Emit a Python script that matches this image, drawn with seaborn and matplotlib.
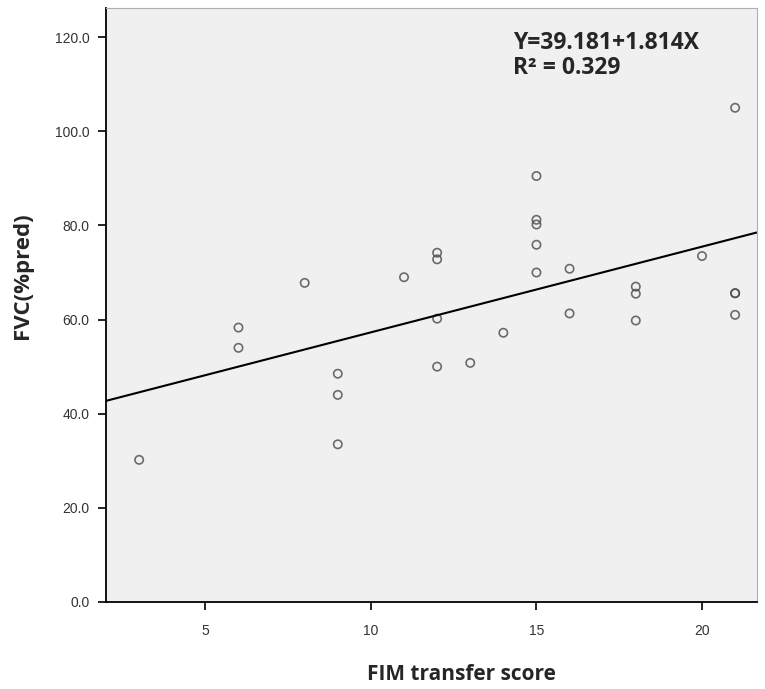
import matplotlib
matplotlib.use("Agg")
import matplotlib.pyplot as plt
import seaborn as sns
import pandas as pd

# FIM transfer score and FVC (%pred)
fim_score = [3, 6, 6, 8, 9, 9, 9, 11, 12, 12, 12, 12, 13, 14,
             15, 15, 15, 15, 15, 16, 16, 18, 18, 18, 20, 21, 21, 21, 21]
fvc_pred = [30.2, 58.3, 54.0, 67.8, 48.5, 44.0, 33.5, 69.0, 74.2, 72.8, 60.2, 50.0, 50.8, 57.2,
            90.5, 81.2, 80.2, 75.9, 70.0, 70.8, 61.3, 67.0, 65.5, 59.8, 73.5, 105.0, 65.6, 65.6, 61.0]

x_ticks = [5, 10, 15, 20]
y_ticks = [0, 20, 40, 60, 80, 100, 120]
equation_text = "Y=39.181+1.814X\nR² = 0.329"

df = pd.DataFrame({"FIM transfer score": fim_score, "FVC(%pred)": fvc_pred})

sns.set_style("ticks")
plt.rcParams['font.family'] = ['Liberation Sans', 'DejaVu Sans']

fig = plt.figure(figsize=(7.65, 6.89), dpi=100)
ax = fig.add_axes([0.1386, 0.1263, 0.8509, 0.8621])
ax.set_facecolor("#f0f0f0")
ax.set_xlim(2.0, 21.66)
ax.set_ylim(0, 126.2)

sns.regplot(data=df, x="FIM transfer score", y="FVC(%pred)", ax=ax, ci=None, truncate=False,
            scatter_kws=dict(s=36, facecolors="none", edgecolors="#4a4a4a", linewidths=1.2),
            line_kws=dict(color="black", linewidth=1.5))

ax.set_xlim(2.0, 21.66)
ax.set_ylim(0, 126.2)
ax.set_xticks(x_ticks)
ax.set_xticklabels([str(t) for t in x_ticks])
ax.set_yticks(y_ticks)
ax.set_yticklabels([f"{t:.1f}" for t in y_ticks])
ax.tick_params(axis="both", direction="out", length=6, width=1.2, colors="black",
               labelsize=10, labelcolor="#333333", pad=6)
ax.tick_params(axis="x", pad=10)

for side in ["top", "right"]:
    ax.spines[side].set_visible(True)
    ax.spines[side].set_color("#b0b0b0")
    ax.spines[side].set_linewidth(0.8)
for side in ["left", "bottom"]:
    ax.spines[side].set_color("black")
    ax.spines[side].set_linewidth(1.3)

ax.set_xlabel("FIM transfer score", fontsize=15, fontweight="bold",
              family=["Open Sans", "DejaVu Sans"])
ax.set_ylabel("FVC(%pred)", fontsize=16, fontweight="bold",
              family=["Open Sans", "DejaVu Sans"])
ax.xaxis.set_label_coords(0.546, -0.105)
ax.yaxis.set_label_coords(-0.112, 0.55)

ax.text(14.3, 121.3, equation_text, fontsize=16.5, fontweight="bold",
        family=["Open Sans", "DejaVu Sans"], va="top", ha="left", linespacing=1.05)

fig.savefig("out.png", dpi=100)
